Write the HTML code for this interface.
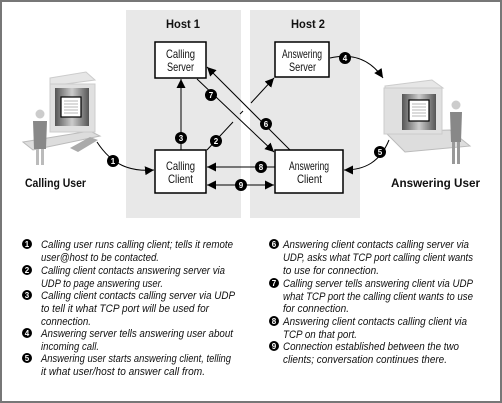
<!DOCTYPE html>
<html><head><meta charset="utf-8"><style>
html,body{margin:0;padding:0;background:#fff}
svg{display:block}
.l{font-family:"Liberation Sans",sans-serif;font-size:11px;font-style:italic;fill:#111}
.b{font-family:"Liberation Sans",sans-serif;font-size:12px;font-weight:bold;fill:#111}
.bx{font-family:"Liberation Sans",sans-serif;font-size:12px;fill:#111}
.n{font-family:"Liberation Sans",sans-serif;font-size:8px;font-weight:bold;fill:#fff}
</style></head><body>
<svg width="502" height="403" viewBox="0 0 502 403" xmlns="http://www.w3.org/2000/svg">
<defs>
<marker id="a" viewBox="0 0 10 10" refX="10" refY="5" markerWidth="9" markerHeight="9" markerUnits="userSpaceOnUse" orient="auto"><path d="M0,0L10,5L0,10z" fill="#000"/></marker>
<marker id="as" viewBox="0 0 10 10" refX="0" refY="5" markerWidth="9" markerHeight="9" markerUnits="userSpaceOnUse" orient="auto"><path d="M10,0L0,5L10,10z" fill="#000"/></marker>
<linearGradient id="sc" x1="0" x2="1"><stop offset="0" stop-color="#555"/><stop offset="0.5" stop-color="#ccc"/><stop offset="1" stop-color="#555"/></linearGradient>
</defs>
<rect x="1" y="1" width="500" height="401" fill="#fff" stroke="#777" stroke-width="2"/>
<rect x="126" y="10" width="115" height="208" fill="#e8e8e8"/>
<rect x="250" y="10" width="110" height="208" fill="#e8e8e8"/>
<text class="b" x="166" y="28" textLength="34" lengthAdjust="spacingAndGlyphs">Host 1</text>
<text class="b" x="291" y="28" textLength="34" lengthAdjust="spacingAndGlyphs">Host 2</text>

<!-- boxes -->
<rect x="155" y="42" width="51" height="36" fill="#fff" stroke="#000" stroke-width="1.5"/>
<text class="bx" x="166" y="58" textLength="29" lengthAdjust="spacingAndGlyphs">Calling</text>
<text class="bx" x="167" y="71" textLength="27" lengthAdjust="spacingAndGlyphs">Server</text>
<rect x="155" y="150" width="51" height="43" fill="#fff" stroke="#000" stroke-width="1.5"/>
<text class="bx" x="166" y="170" textLength="29" lengthAdjust="spacingAndGlyphs">Calling</text>
<text class="bx" x="168" y="183" textLength="25" lengthAdjust="spacingAndGlyphs">Client</text>
<rect x="275" y="42" width="54" height="35" fill="#fff" stroke="#000" stroke-width="1.5"/>
<text class="bx" x="282" y="58" textLength="40" lengthAdjust="spacingAndGlyphs">Answering</text>
<text class="bx" x="289" y="71" textLength="27" lengthAdjust="spacingAndGlyphs">Server</text>
<rect x="275" y="150" width="68" height="43" fill="#fff" stroke="#000" stroke-width="1.5"/>
<text class="bx" x="289" y="170" textLength="40" lengthAdjust="spacingAndGlyphs">Answering</text>
<text class="bx" x="297" y="183" textLength="25" lengthAdjust="spacingAndGlyphs">Client</text>

<!-- connectors -->
<g stroke="#000" stroke-width="1" fill="none">
<line x1="181" y1="150" x2="181" y2="79" marker-end="url(#a)"/>
<line x1="207" y1="150" x2="233" y2="122"/>
<line x1="240" y1="114" x2="243" y2="111"/>
<line x1="251" y1="103" x2="274" y2="78" marker-end="url(#a)"/>
<line x1="197" y1="79" x2="274" y2="152" marker-end="url(#a)"/>
<line x1="290" y1="150" x2="207" y2="67" marker-end="url(#a)"/>
<line x1="275" y1="167" x2="207" y2="167" marker-end="url(#a)"/>
<line x1="207" y1="185" x2="274" y2="185" marker-start="url(#as)" marker-end="url(#a)"/>
<path d="M97,142 C112,165 130,172 154,170" marker-end="url(#a)"/>
<path d="M330,58 C355,52 372,62 383,78" marker-end="url(#a)"/>
<path d="M389,140 C380,162 365,170 344,170" marker-end="url(#a)"/>
</g>

<!-- number circles -->
<g>
<circle cx="113" cy="161" r="6"/><text class="n" x="113" y="164" text-anchor="middle">1</text>
<circle cx="216" cy="141" r="6"/><text class="n" x="216" y="144" text-anchor="middle">2</text>
<circle cx="181" cy="138" r="6"/><text class="n" x="181" y="141" text-anchor="middle">3</text>
<circle cx="345" cy="58" r="6"/><text class="n" x="345" y="61" text-anchor="middle">4</text>
<circle cx="380" cy="152" r="6"/><text class="n" x="380" y="155" text-anchor="middle">5</text>
<circle cx="266" cy="124" r="6"/><text class="n" x="266" y="127" text-anchor="middle">6</text>
<circle cx="211" cy="95" r="6"/><text class="n" x="211" y="98" text-anchor="middle">7</text>
<circle cx="261" cy="167" r="6"/><text class="n" x="261" y="170" text-anchor="middle">8</text>
<circle cx="241" cy="185" r="6"/><text class="n" x="241" y="188" text-anchor="middle">9</text>
</g>

<!-- calling user computer -->
<g>
<polygon points="23,142 90,131 100,136 33,150" fill="#ddd" stroke="#bbb"/>
<polygon points="70,148 90,137 98,140 78,152" fill="#aaa"/>
<polygon points="50,78 86,72 95,80 50,86" fill="#e6e6e6" stroke="#ccc"/>
<rect x="50" y="84" width="45" height="48" fill="#e0e0e0" stroke="#ccc"/>
<rect x="55" y="88" width="34" height="38" fill="url(#sc)"/>
<rect x="61" y="97" width="20" height="20" fill="#fff" stroke="#000" stroke-width="1.2"/>
<g stroke="#888" stroke-width="0.6"><line x1="64" y1="101" x2="78" y2="101"/><line x1="64" y1="104" x2="78" y2="104"/><line x1="64" y1="107" x2="78" y2="107"/><line x1="64" y1="110" x2="78" y2="110"/><line x1="64" y1="113" x2="78" y2="113"/></g>
<circle cx="40" cy="114" r="4.5" fill="#ccc"/>
<path d="M33,121 L47,121 L46,149 L34,149 Z" fill="#888"/>
<rect x="36" y="149" width="3" height="16" fill="#bbb"/><rect x="41" y="149" width="3" height="16" fill="#bbb"/>
</g>
<text class="b" x="25" y="187" textLength="61" lengthAdjust="spacingAndGlyphs">Calling User</text>

<!-- answering user computer -->
<g>
<polygon points="385,132 450,130 470,146 405,152" fill="#ddd" stroke="#bbb"/>
<polygon points="385,86 432,80 443,88 385,92" fill="#e6e6e6" stroke="#ccc"/>
<rect x="384" y="88" width="58" height="46" fill="#e0e0e0" stroke="#ccc"/>
<rect x="402" y="94" width="34" height="36" fill="url(#sc)"/>
<rect x="409" y="100" width="20" height="21" fill="#fff" stroke="#000" stroke-width="1.2"/>
<g stroke="#888" stroke-width="0.6"><line x1="412" y1="104" x2="426" y2="104"/><line x1="412" y1="107" x2="426" y2="107"/><line x1="412" y1="110" x2="426" y2="110"/><line x1="412" y1="113" x2="426" y2="113"/><line x1="412" y1="116" x2="426" y2="116"/></g>
<circle cx="456" cy="105" r="4.5" fill="#ccc"/>
<path d="M450,112 L462,112 L461,142 L451,142 Z" fill="#888"/>
<rect x="452" y="142" width="3" height="22" fill="#999"/><rect x="457" y="142" width="3" height="22" fill="#999"/>
</g>
<text class="b" x="391" y="187" textLength="89" lengthAdjust="spacingAndGlyphs">Answering User</text>

<!-- legend -->
<g>
<circle cx="27" cy="244" r="5"/><text class="n" x="27" y="247" text-anchor="middle">1</text>
<circle cx="27" cy="270" r="5"/><text class="n" x="27" y="273" text-anchor="middle">2</text>
<circle cx="27" cy="295" r="5"/><text class="n" x="27" y="298" text-anchor="middle">3</text>
<circle cx="27" cy="333" r="5"/><text class="n" x="27" y="336" text-anchor="middle">4</text>
<circle cx="27" cy="358" r="5"/><text class="n" x="27" y="361" text-anchor="middle">5</text>
<circle cx="274" cy="244" r="5"/><text class="n" x="274" y="247" text-anchor="middle">6</text>
<circle cx="274" cy="283" r="5"/><text class="n" x="274" y="286" text-anchor="middle">7</text>
<circle cx="274" cy="321" r="5"/><text class="n" x="274" y="324" text-anchor="middle">8</text>
<circle cx="274" cy="346" r="5"/><text class="n" x="274" y="349" text-anchor="middle">9</text>
</g>
<g>
<text class="l" x="41" y="248" textLength="192" lengthAdjust="spacingAndGlyphs">Calling user runs calling client; tells it remote</text>
<text class="l" x="41" y="261" textLength="118" lengthAdjust="spacingAndGlyphs">user@host to be contacted.</text>
<text class="l" x="41" y="274" textLength="184" lengthAdjust="spacingAndGlyphs">Calling client contacts answering server via</text>
<text class="l" x="41" y="287" textLength="122" lengthAdjust="spacingAndGlyphs">UDP to page answering user.</text>
<text class="l" x="41" y="299" textLength="194" lengthAdjust="spacingAndGlyphs">Calling client contacts calling server via UDP</text>
<text class="l" x="41" y="312" textLength="168" lengthAdjust="spacingAndGlyphs">to tell it what TCP port will be used for</text>
<text class="l" x="41" y="325" textLength="50" lengthAdjust="spacingAndGlyphs">connection.</text>
<text class="l" x="41" y="337" textLength="192" lengthAdjust="spacingAndGlyphs">Answering server tells answering user about</text>
<text class="l" x="41" y="350" textLength="58" lengthAdjust="spacingAndGlyphs">incoming call.</text>
<text class="l" x="41" y="362" textLength="190" lengthAdjust="spacingAndGlyphs">Answering user starts answering client, telling</text>
<text class="l" x="41" y="375" textLength="164" lengthAdjust="spacingAndGlyphs">it what user/host to answer call from.</text>
<text class="l" x="283" y="248" textLength="186" lengthAdjust="spacingAndGlyphs">Answering client contacts calling server via</text>
<text class="l" x="283" y="261" textLength="190" lengthAdjust="spacingAndGlyphs">UDP, asks what TCP port calling client wants</text>
<text class="l" x="283" y="274" textLength="96" lengthAdjust="spacingAndGlyphs">to use for connection.</text>
<text class="l" x="283" y="287" textLength="190" lengthAdjust="spacingAndGlyphs">Calling server tells answering client via UDP</text>
<text class="l" x="283" y="300" textLength="190" lengthAdjust="spacingAndGlyphs">what TCP port the calling client wants to use</text>
<text class="l" x="283" y="312" textLength="66" lengthAdjust="spacingAndGlyphs">for connection.</text>
<text class="l" x="283" y="325" textLength="184" lengthAdjust="spacingAndGlyphs">Answering client contacts calling client via</text>
<text class="l" x="283" y="338" textLength="74" lengthAdjust="spacingAndGlyphs">TCP on that port.</text>
<text class="l" x="283" y="350" textLength="176" lengthAdjust="spacingAndGlyphs">Connection established between the two</text>
<text class="l" x="283" y="363" textLength="164" lengthAdjust="spacingAndGlyphs">clients; conversation continues there.</text>
</g>
</svg>
</body></html>
